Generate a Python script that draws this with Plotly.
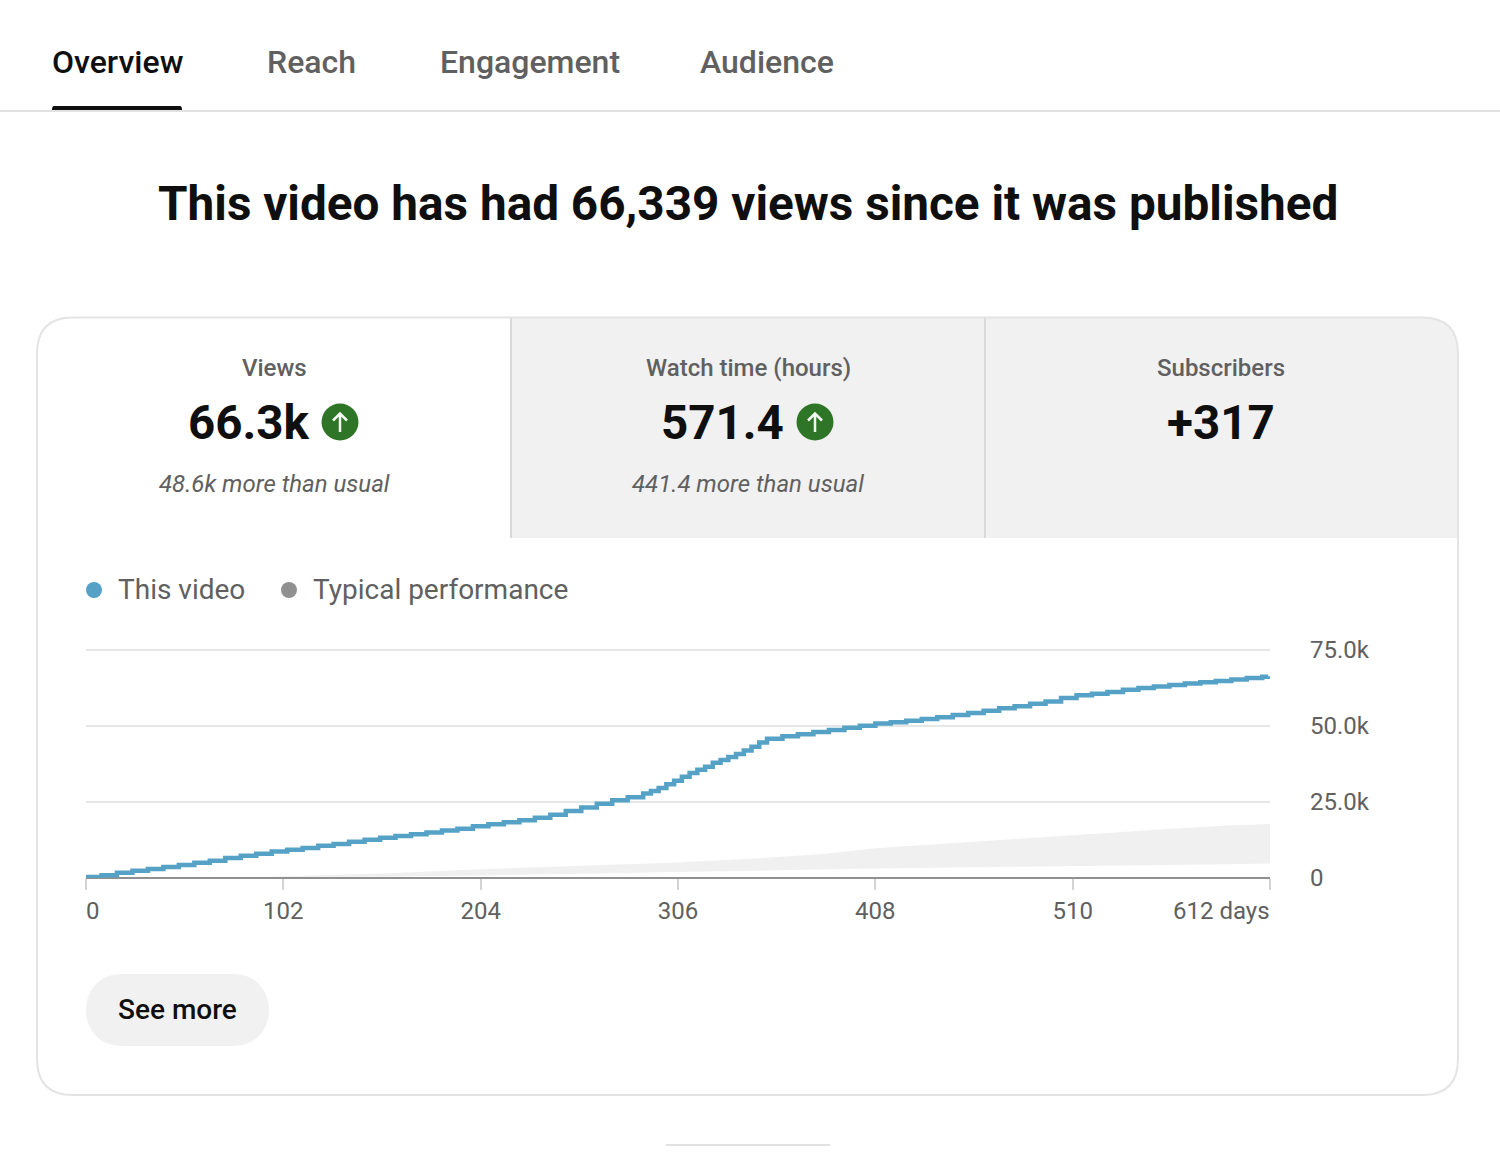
import plotly.graph_objects as go

PAGE_W, PAGE_H = 1500, 1164

# Cumulative views (thousands), one step per reporting period
step_days = [0, 8, 16, 24, 32, 40, 48, 56, 64, 72, 80, 88, 96, 104, 112, 120, 128, 136, 144, 152,
             160, 168, 176, 184, 192, 200, 208, 216, 224, 232, 240, 248, 256, 264, 272, 280, 288, 292, 296,
             300, 304, 308, 312, 316, 320, 324, 328, 332, 336, 340, 344, 348, 352, 360, 368, 376, 384, 392,
             400, 408, 416, 424, 432, 440, 448, 456, 464, 472, 480, 488, 496, 504, 512, 520, 528, 536, 544,
             552, 560, 568, 576, 584, 592, 600, 608, 611]
views_k = [0.3, 0.9, 1.75, 2.4, 3.0, 3.6, 4.3, 5.0, 5.7, 6.6, 7.3, 8.0, 8.7, 9.3, 9.9, 10.6, 11.2, 11.9,
           12.6, 13.2, 13.8, 14.4, 15.0, 15.6, 16.2, 17.0, 17.7, 18.3, 19.0, 19.8, 20.8, 22.0, 23.2, 24.4,
           25.6, 26.6, 27.8, 28.6, 29.6, 30.8, 32.0, 33.3, 34.5, 35.6, 36.6, 37.9, 38.8, 39.8, 40.8, 41.9,
           43.2, 44.6, 45.8, 46.6, 47.3, 48.0, 48.7, 49.4, 50.1, 50.8, 51.2, 51.7, 52.3, 52.9, 53.6, 54.3,
           55.0, 55.8, 56.5, 57.3, 58.1, 59.2, 60.1, 60.6, 61.2, 61.9, 62.5, 63.0, 63.5, 64.0, 64.4, 64.8,
           65.3, 65.8, 66.2, 66.34]

# Typical performance band (thousands)
band_days = [90, 102, 153, 204, 255, 306, 348, 381, 408, 459, 510, 561, 590, 612]
band_low = [0.35, 0.35, 0.4, 0.8, 1.4, 2.0, 2.6, 2.9, 3.1, 3.5, 3.8, 4.2, 4.5, 4.8]
band_high = [0.35, 0.6, 1.5, 2.9, 4.0, 5.1, 6.5, 7.9, 9.8, 12.0, 14.1, 16.2, 17.3, 17.8]

x_ticks = [0, 102, 204, 306, 408, 510, 612]
x_tick_text = ["", "102", "204", "306", "408", "510", ""]
y_ticks = [0, 25, 50, 75]
y_tick_text = ["0", "25.0k", "50.0k", "75.0k"]

tabs = [("Overview", 52, "#0f0f0f"), ("Reach", 267, "#606060"),
        ("Engagement", 440, "#606060"), ("Audience", 700, "#606060")]
metrics = [("Views", "48.6k more than usual", 274),
           ("Watch time (hours)", "441.4 more than usual", 748),
           ("Subscribers", "", 1221)]
arrow_centres = [340, 815]
legend_items = [("This video", 94, "#56a2c7", 118), ("Typical performance", 289, "#909090", 313)]

LINE_BLUE = "#56a2c7"
FONT = "Roboto"


def px(x):
    return x / PAGE_W


def py(y):
    return 1 - y / PAGE_H


def path(*cmds):
    """Build an SVG path from (letter, x, y, ...) tuples given in page pixels."""
    out = []
    for c in cmds:
        letter, vals = c[0], c[1:]
        coords = []
        for i in range(0, len(vals), 2):
            coords.append(f"{px(vals[i]):.6f},{py(vals[i + 1]):.6f}")
        out.append(letter + " ".join(coords))
    return " ".join(out)


def text(s, x, y, size, color, anchor="left", weight=400, style="normal"):
    # annotation boxes carry about 2px of padding on the anchored side
    nudge = -2 if anchor == "left" else 0
    return dict(text=s, x=px(x), y=py(y), xref="paper", yref="paper", xanchor=anchor, yanchor="middle",
                showarrow=False, align=anchor, xshift=nudge,
                font=dict(family=FONT, size=size, color=color, weight=weight, style=style))


def hline(x0, x1, y, color, width):
    return dict(type="line", xref="paper", yref="paper", x0=px(x0), x1=px(x1), y0=py(y), y1=py(y),
                line=dict(color=color, width=width), layer="below")


L, T, R, B, RAD = 37, 317.5, 1458, 1095, 36

shapes = [
    hline(0, 1500, 111, "#e2e2e2", 2),
    dict(type="path", xref="paper", yref="paper", layer="below", line=dict(width=0), fillcolor="#0f0f0f",
         path=path(("M", 52, 106), ("L", 180, 106), ("Q", 182, 106, 182, 110), ("L", 52, 110),
                   ("Q", 52, 106, 54, 106), ("Z",))),
    # metric strip behind the two inactive tabs
    dict(type="path", xref="paper", yref="paper", layer="below", line=dict(width=0), fillcolor="#f1f1f1",
         path=path(("M", 511, T), ("L", R - RAD, T), ("Q", R, T, R, T + RAD), ("L", R, 538), ("L", 511, 538),
                   ("Z",))),
    dict(type="line", xref="paper", yref="paper", x0=px(511), x1=px(511), y0=py(318), y1=py(538),
         line=dict(color="#d9d9d9", width=2), layer="below"),
    dict(type="line", xref="paper", yref="paper", x0=px(985), x1=px(985), y0=py(318), y1=py(538),
         line=dict(color="#d9d9d9", width=2), layer="below"),
    # card outline
    dict(type="path", xref="paper", yref="paper", layer="below", line=dict(color="#e4e4e4", width=2),
         path=path(("M", L + RAD, T), ("L", R - RAD, T), ("Q", R, T, R, T + RAD), ("L", R, B - RAD),
                   ("Q", R, B, R - RAD, B), ("L", L + RAD, B), ("Q", L, B, L, B - RAD), ("L", L, T + RAD),
                   ("Q", L, T, L + RAD, T), ("Z",))),
    # See more pill
    dict(type="path", xref="paper", yref="paper", layer="below", line=dict(width=0), fillcolor="#f1f1f1",
         path=path(("M", 122, 974), ("L", 233, 974), ("C", 281, 974, 281, 1046, 233, 1046), ("L", 122, 1046),
                   ("C", 74, 1046, 74, 974, 122, 974), ("Z",))),
    hline(666, 830, 1145, "#e2e2e2", 2),
]

for cx in arrow_centres:
    shapes.append(dict(type="circle", xref="paper", yref="paper", x0=px(cx - 18.5), x1=px(cx + 18.5),
                       y0=py(422 + 18.5), y1=py(422 - 18.5), fillcolor="#2f7527", line_width=0, layer="below"))
    shapes.append(dict(type="path", xref="paper", yref="paper", layer="above",
                       line=dict(color="#f4f8f3", width=2.5),
                       path=path(("M", cx, 432), ("L", cx, 413.5), ("M", cx - 7, 420.5), ("L", cx, 413.5),
                                 ("L", cx + 7, 420.5))))

for label, dot_x, dot_color, text_x in legend_items:
    shapes.append(dict(type="circle", xref="paper", yref="paper", x0=px(dot_x - 8), x1=px(dot_x + 8),
                       y0=py(590 + 8), y1=py(590 - 8), fillcolor=dot_color, line_width=0, layer="below"))

annotations = [text(name, x, 62, 32, color, weight=500) for name, x, color in tabs]
annotations.append(text("This video has had 66,339 views since it was published", 747.5, 204, 47.7, "#0f0f0f",
                        anchor="center", weight=700))
for label, note, cx in metrics:
    annotations.append(text(label, cx, 368, 24, "#606060", anchor="center", weight=500))
    if note:
        annotations.append(text(note, cx, 484, 24, "#606060", anchor="center", style="italic"))
annotations.append(text("66.3k", 188, 422.5, 47.5, "#0f0f0f", weight=700))
annotations.append(text("571.4", 661, 422.5, 47.5, "#0f0f0f", weight=700))
annotations.append(text("+317", 1221, 422.5, 47.5, "#0f0f0f", anchor="center", weight=700))
for label, dot_x, dot_color, text_x in legend_items:
    annotations.append(text(label, text_x, 589, 28, "#606060"))
annotations.append(text("See more", 177.5, 1009, 28, "#0f0f0f", anchor="center", weight=500))

# End labels sit inside the plot span, so they are anchored to the axis ends
annotations.append(dict(text="0", x=0, y=py(911), xref="x", yref="paper", xanchor="left", yanchor="middle",
                        showarrow=False, xshift=-2, font=dict(family=FONT, size=24, color="#606060")))
annotations.append(dict(text="612 days", x=612, y=py(911), xref="x", yref="paper", xanchor="right",
                        yanchor="middle", showarrow=False, xshift=2, font=dict(family=FONT, size=24, color="#606060")))

fig = go.Figure()
fig.add_trace(go.Scatter(x=band_days, y=band_low, mode="lines", line=dict(width=0, color="#f0f0f0"),
                         showlegend=False, hoverinfo="skip"))
fig.add_trace(go.Scatter(x=band_days, y=band_high, mode="lines", line=dict(width=0, color="#f0f0f0"),
                         fill="tonexty", fillcolor="#f0f0f0", name="Typical performance", showlegend=False))
fig.add_trace(go.Scatter(x=step_days, y=views_k, mode="lines", line=dict(color=LINE_BLUE, width=4.5, shape="hv"),
                         name="This video", showlegend=False, cliponaxis=False))

# Range runs slightly past the top tick so the 75k gridline is kept
Y_TOP = 76
px_per_k = (878 - 650) / 75

fig.update_layout(
    template="none",
    width=PAGE_W, height=PAGE_H, margin=dict(l=0, r=0, t=0, b=0),
    paper_bgcolor="white", plot_bgcolor="rgba(0,0,0,0)", showlegend=False,
    shapes=shapes, annotations=annotations,
    xaxis=dict(domain=[px(86), px(1270)], range=[0, 612], tickmode="array", tickvals=x_ticks,
               ticktext=x_tick_text, ticks="outside", ticklen=11, tickcolor="#d4d4d4", tickwidth=2,
               showline=False, showgrid=False, zeroline=False, automargin=False,
               ticklabelstandoff=0, tickfont=dict(family=FONT, size=24, color="#606060")),
    yaxis=dict(domain=[py(878), py(878 - Y_TOP * px_per_k)], range=[0, Y_TOP], side="right", tickmode="array",
               tickvals=y_ticks, ticktext=y_tick_text, ticks="", showgrid=True, gridcolor="#e6e6e6", gridwidth=2,
               zeroline=True, zerolinecolor="#909090", zerolinewidth=2, showline=False, automargin=False,
               ticklabelstandoff=39, tickfont=dict(family=FONT, size=24, color="#606060")),
)

fig.write_html("out.html")
